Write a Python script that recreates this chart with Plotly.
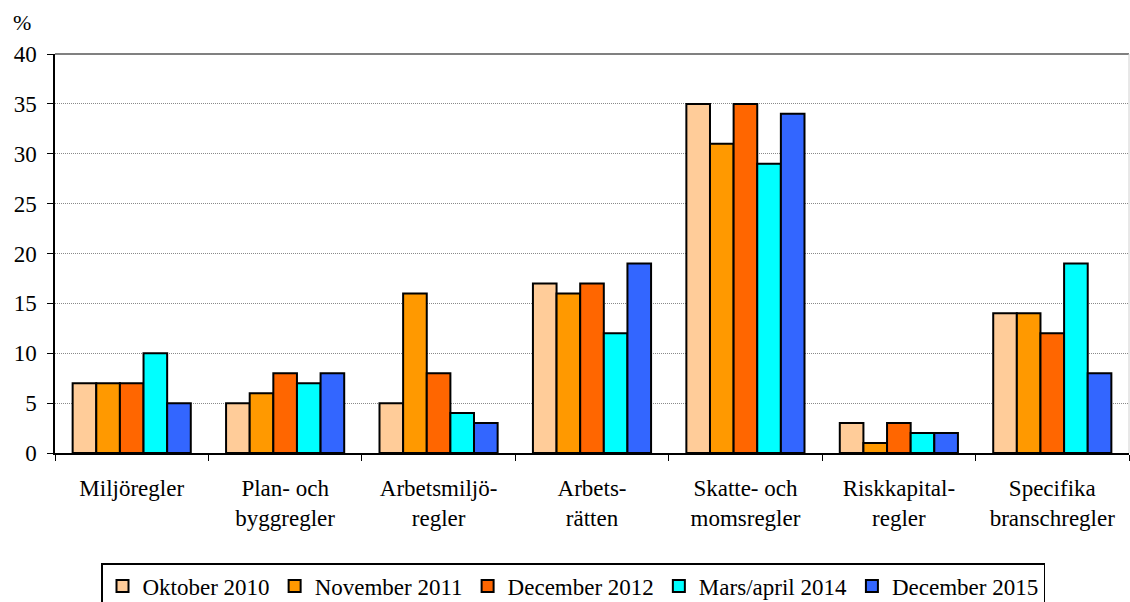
import plotly.graph_objects as go

categories = ["Miljöregler", "Plan- och<br>byggregler", "Arbetsmiljö-<br>regler", "Arbets-<br>rätten",
              "Skatte- och<br>momsregler", "Riskkapital-<br>regler", "Specifika<br>branschregler"]
series_names = ["Oktober 2010", "November 2011", "December 2012", "Mars/april 2014", "December 2015"]
okt_2010 = [7, 5, 5, 17, 35, 3, 14]
nov_2011 = [7, 6, 16, 16, 31, 1, 14]
dec_2012 = [7, 8, 8, 17, 35, 3, 12]
mar_2014 = [10, 7, 4, 12, 29, 2, 19]
dec_2015 = [5, 8, 3, 19, 34, 2, 8]
series_values = [okt_2010, nov_2011, dec_2012, mar_2014, dec_2015]
colors = ["#FFCC99", "#FF9900", "#FF6600", "#00FFFF", "#3366FF"]
y_ticks = [0, 5, 10, 15, 20, 25, 30, 35, 40]

FONT = "'Liberation Serif', 'Times New Roman', Times, 'DejaVu Serif', serif"

fig = go.Figure()
for name, vals, col in zip(series_names, series_values, colors):
    fig.add_trace(go.Bar(
        x=categories, y=vals, name=name,
        marker=dict(color=col, line=dict(color="black", width=2)),
    ))

fig.update_layout(
    width=1130, height=602,
    margin=dict(l=55, r=1, t=54, b=149),
    paper_bgcolor="white", plot_bgcolor="white",
    barmode="group", bargap=0.23, bargroupgap=0,
    font=dict(family=FONT, size=22, color="black"),
    showlegend=True,
    legend=dict(orientation="h", xref="container", yref="container",
                x=101 / 1130, xanchor="left", y=(602 - 563) / 602, yanchor="top",
                bordercolor="black", borderwidth=1.5, font=dict(size=23, family=FONT),
                itemsizing="constant", tracegroupgap=0, itemwidth=30),
    xaxis=dict(showline=True, linecolor="black", linewidth=1.5, ticks="outside",
               tickson="boundaries", ticklen=6, tickcolor="black", automargin=False,
               ticklabelstandoff=14, tickfont=dict(size=23, family=FONT)),
    yaxis=dict(range=[0, 40], tickvals=y_ticks, showline=True, linecolor="black",
               linewidth=1.5, ticks="outside", ticklen=6, tickcolor="black",
               showgrid=True, gridcolor="#8a8a8a", griddash="1px,1px", gridwidth=1,
               automargin=False, ticklabelstandoff=6,
               tickfont=dict(size=23, family=FONT), zeroline=False),
    annotations=[dict(text="%", xref="paper", yref="paper", x=(22 - 55) / 1074,
                      y=1 + (54 - 22) / 399, xanchor="center", yanchor="middle",
                      showarrow=False, font=dict(size=22, family=FONT))],
    shapes=[
        dict(type="line", xref="paper", yref="paper", x0=0, x1=1, y0=1, y1=1,
             line=dict(color="#808080", width=2)),
        dict(type="line", xref="paper", yref="paper", x0=1, x1=1, y0=0, y1=1,
             line=dict(color="#d0d0d0", width=1)),
    ],
)

fig.write_html("out.html", config={"displayModeBar": False},
               post_script="document.body.style.margin='0';document.body.style.padding='0';")
